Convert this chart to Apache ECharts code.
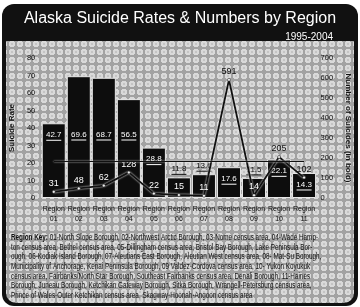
<!DOCTYPE html>
<html>
<head>
<meta charset="utf-8">
<script src="https://cdn.jsdelivr.net/npm/echarts@6/dist/echarts.min.js"></script>
<style>
  html, body { margin: 0; padding: 0; background: #fff; }
  #chart { width: 360px; height: 307px; }
</style>
</head>
<body>
<div id="chart"></div>
<script>
const regions = ['01', '02', '03', '04', '05', '06', '07', '08', '09', '10', '11']
const suicideRate = [42.7, 69.6, 68.7, 56.5, 28.8, 11.8, 13.6, 17.6, 11.5, 22.1, 14.3]
const suicideCount = [31, 48, 62, 128, 22, 15, 11, 591, 14, 205, 102]
const stateRate = 21
const rateMax = 80
const countMax = 700

const keyLines = [
  '{b|Region Key:} 01-North Slope Borough, 02-Northwest Arctic Borough, 03-Nome census area, 04-Wade Hamp-',
  'ton census area, Bethel census area, 05-Dillingham census area, Bristol Bay Borough, Lake Peninsula Bor-',
  'ough, 06-Kodiak Island Borough, 07-Aleutians East Borough, Aleutian West census area, 08- Mat-Su Borough,',
  'Municipality of Anchorage, Kenai Peninsula Borough, 09 Valdez-Cordova census area, 10- Yukon Koyukuk',
  'census area, Fairbanks/North Star Borough, Southeast Fairbanks census area, Denali Borough, 11-Haines',
  'Borough, Juneau Borough, Ketchikan Gateway Borough, Sitka Borough, Wrangell-Petersburg census area,',
  'Prince of Wales-Outer Ketchikan census area, Skagway-Hoonah-Angoon census area'
]

const font = '"Liberation Sans", Arial, sans-serif'

// halftone-ish backdrop
const makePattern = () => {
  const c = document.createElement('canvas')
  c.width = 8
  c.height = 8
  const g = c.getContext('2d')
  g.fillStyle = '#a2a2a2'
  g.fillRect(0, 0, 8, 8)
  g.fillStyle = '#d9d9d9'
  g.fillRect(2, 1, 4, 6)
  g.fillRect(1, 2, 6, 4)
  g.fillStyle = '#c4c4c4'
  g.fillRect(3, 3, 2, 2)
  return c
}

const plotH = 140
const pxPerRate = plotH / rateMax

const barData = suicideRate.map(v => {
  const above = v < 14
  const col = above ? '#111' : '#fff'
  return {
    value: v,
    label: {
      position: above ? 'top' : 'insideTop',
      distance: above ? 2 : (v > 40 ? Math.max(7, v * pxPerRate - 68) : 7),
      formatter: '{v|' + v.toFixed(1) + '}\n{u| }',
      rich: {
        v: { color: col, fontSize: 8, fontFamily: font, lineHeight: 9 },
        u: { width: 15, height: 1, lineHeight: 2, fontSize: 1, backgroundColor: col }
      }
    }
  }
})

const lineData = suicideCount.map((n, i) => {
  const labelPx = n / countMax * plotH + 10
  const onBar = labelPx < suicideRate[i] * pxPerRate
  return {
    value: n,
    label: { color: onBar ? '#fff' : '#111' }
  }
})

const chart = echarts.init(document.getElementById('chart'))

const option = {
  backgroundColor: '#fff',
  animation: false,
  title: [
    {
      text: 'Alaska Suicide Rates & Numbers by Region',
      left: 'center',
      top: 6,
      textStyle: { color: '#fff', fontSize: 16, fontWeight: 'normal', fontFamily: font }
    },
    {
      text: '1995-2004',
      right: 22,
      top: 27,
      textStyle: { color: '#fff', fontSize: 10, fontWeight: 'normal', fontFamily: font }
    }
  ],
  graphic: [
    {
      type: 'rect',
      z: -10,
      shape: { x: 2, y: 4, width: 356, height: 302, r: 12 },
      style: { fill: '#111' }
    },
    {
      type: 'rect',
      z: -9,
      shape: { x: 6, y: 41, width: 348, height: 262, r: [0, 0, 10, 10] },
      style: { fill: { image: makePattern(), repeat: 'repeat' } }
    },
    {
      type: 'text',
      z: 5,
      x: 11,
      y: 233,
      scaleX: 0.745,
      style: {
        text: keyLines.join('\n'),
        fill: '#111',
        font: '8.5px ' + font,
        lineHeight: 9.6,
        rich: {
          b: { fontWeight: 'bold', fontSize: 8.5, fontFamily: font, fill: '#111' }
        }
      }
    }
  ],
  grid: { left: 39, right: 42, top: 58, bottom: 109 },
  xAxis: {
    type: 'category',
    data: regions,
    axisLine: { show: false },
    axisTick: { show: false },
    axisLabel: {
      formatter: v => 'Region\n' + v,
      color: '#111',
      fontSize: 7,
      lineHeight: 10,
      margin: 6,
      fontFamily: font,
      interval: 0
    }
  },
  yAxis: [
    {
      type: 'value',
      min: 0,
      max: rateMax,
      interval: 10,
      name: 'Suicide Rate',
      nameLocation: 'middle',
      nameRotate: 90,
      nameGap: 15,
      nameTextStyle: { color: '#111', fontSize: 8, fontWeight: 'bold', fontFamily: font },
      splitLine: { show: false },
      axisLabel: { color: '#111', fontSize: 7.5, margin: 6, fontFamily: font }
    },
    {
      type: 'value',
      min: 0,
      max: countMax,
      interval: 100,
      name: 'Number of Suicides (in bold)',
      nameLocation: 'middle',
      nameRotate: -90,
      nameGap: 26,
      nameTextStyle: { color: '#111', fontSize: 8, fontWeight: 'bold', fontFamily: font },
      splitLine: { show: false },
      axisLabel: { color: '#111', fontSize: 7.5, margin: 4, fontFamily: font }
    }
  ],
  series: [
    {
      name: 'Suicide Rate',
      type: 'bar',
      data: barData,
      barCategoryGap: '4%',
      itemStyle: { color: '#0d0d0d', borderColor: '#e8e8e8', borderWidth: 1 },
      label: { show: true },
      markLine: {
        silent: true,
        symbol: 'none',
        label: { show: false },
        lineStyle: { color: '#111', type: 'solid', width: 1, shadowColor: '#fff', shadowBlur: 2 },
        data: [[{ coord: [0, stateRate] }, { coord: [10, stateRate] }]]
      }
    },
    {
      name: 'Number of Suicides',
      type: 'line',
      yAxisIndex: 1,
      data: lineData,
      symbol: 'circle',
      symbolSize: 3,
      itemStyle: { color: '#eee', borderColor: '#111', borderWidth: 0.5 },
      lineStyle: { color: '#111', width: 1.8, shadowColor: '#fff', shadowBlur: 2 },
      label: {
        show: true,
        position: 'top',
        distance: 2,
        fontSize: 9,
        fontFamily: font
      },
      z: 3
    }
  ]
}

chart.setOption(option)
</script>
</body>
</html>
